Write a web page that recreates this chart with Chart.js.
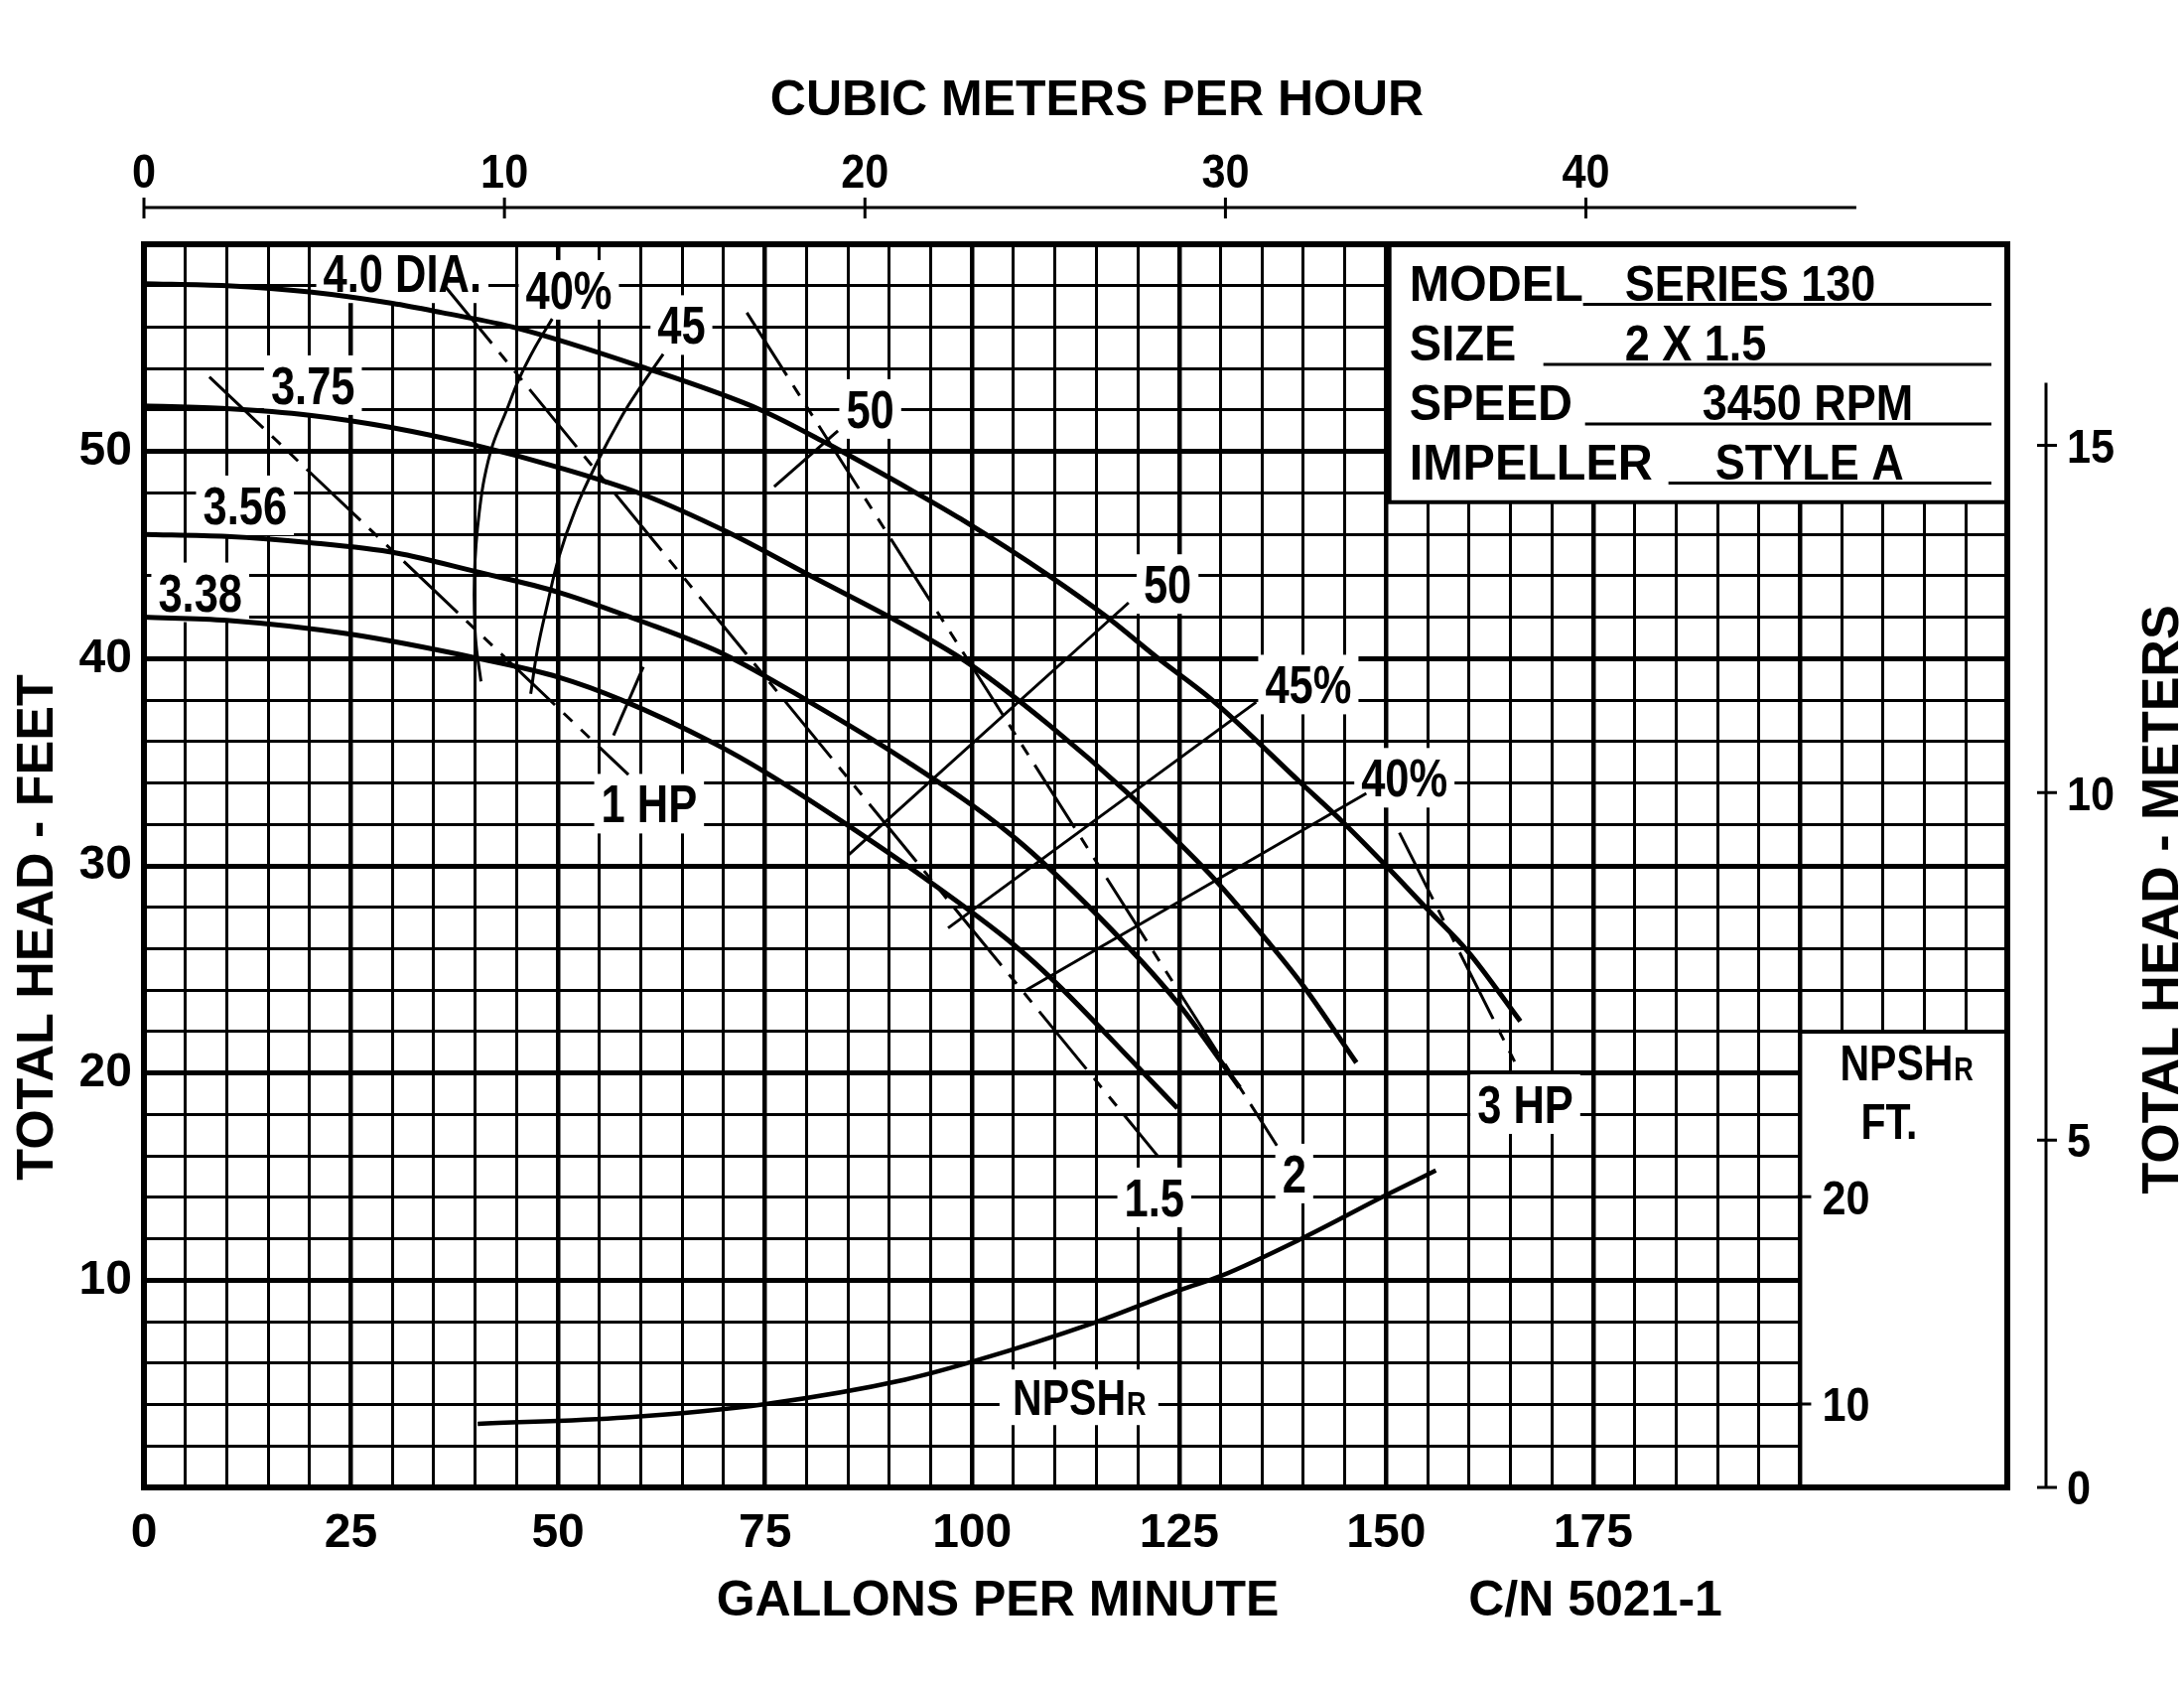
<!DOCTYPE html>
<html>
<head>
<meta charset="utf-8">
<script src="https://cdn.jsdelivr.net/npm/chart.js@4.4.0/dist/chart.umd.min.js"></script>
<style>
  html, body { margin: 0; padding: 0; background: #fff; }
  canvas { display: block; }
</style>
</head>
<body>
<canvas id="pumpChart" width="2200" height="1700"></canvas>
<script>
// axis tick labels
const gpmLabels = [0, 25, 50, 75, 100, 125, 150, 175];
const headLabels = [10, 20, 30, 40, 50];
const cubicLabels = [0, 10, 20, 30, 40];
const meterLabels = [0, 5, 10, 15];
const npshLabels = [10, 20];

// impeller curves, [gpm, head ft]
const dia400 = [[0,58.1],[10,58.0],[20,57.7],[30,57.15],[36,56.7],[45,55.96],[60,54.1],[74.5,52.0],[82.4,50.4],[92.8,48.1],[98.6,46.75],[109.3,44.0],[116.3,42.0],[122.5,40.0],[129,38.0],[139.7,34.0],[144.8,32.1],[150,30.0],[155,27.9],[159.8,25.9],[166.2,22.5]];
const dia375 = [[0,52.2],[10,52.07],[20,51.75],[30,51.15],[40,50.3],[50,49.24],[60,47.96],[70.5,46.1],[80,44.1],[92.8,41.4],[99.85,39.7],[109.3,36.8],[119.1,33.4],[125,31.1],[129.4,29.3],[135.6,26.4],[140,24.2],[146.4,20.5]];
const dia356 = [[0,46.0],[10,45.9],[20,45.6],[30.5,45.1],[40.1,44.2],[50.1,43.2],[60.1,41.8],[70.1,40.2],[80,38.0],[91.9,35.1],[104.7,31.5],[115.3,27.55],[124.8,23.4],[132.3,19.3]];
const dia338 = [[0,42.0],[10,41.85],[24.6,41.2],[40.5,40.0],[50.1,39.1],[57.7,38.0],[68.9,35.9],[75.1,34.5],[84.45,32.1],[94.3,29.4],[105,26.2],[110,24.4],[120,20.3],[124.8,18.3]];

// efficiency lines
const eff40Left = [[49.3,56.4],[47.2,55.0],[45.3,53.5],[43.7,51.9],[42.1,50.3],[41.1,48.7],[40.5,47.1],[40.1,45.5],[39.9,43.9],[39.9,42.3],[40.1,40.7],[40.7,38.9]];
const eff45Left = [[62.7,54.7],[60.1,53.2],[57.7,51.7],[54.5,49.3],[52.1,47.2],[50.1,44.9],[48.7,42.6],[47.5,40.4],[46.7,38.3]];
const effStub = [[60.3,39.6],[56.7,36.3]];
const eff50Left = [[76.1,48.3],[83.8,51.0]];
const eff50Right = [[118.9,42.7],[85.0,30.5]];
const eff45Right = [[134.3,37.9],[97.1,27.0]];
const eff40Right = [[147.6,33.5],[106.5,24.0]];

// horsepower lines
const hp1 = [[7.9,53.6],[58.5,34.4]];
const hp15 = [[36.3,58.0],[122.4,16.0]];
const hp2 = [[72.8,56.7],[136.8,16.5]];
const hp3 = [[151.6,31.6],[165.7,20.4]];

// NPSHr, [gpm, npsh ft]
const npshr = [[40.3,9.04],[58.2,9.35],[75.1,10.0],[91.9,11.17],[100.3,12.07],[114.4,13.87],[125.4,15.54],[130,16.17],[140,18.02],[149.7,20.02],[156,21.27]];

// curve labels: text, gpm, ft
const curveLabels = [
    ['4.0 DIA.', 31.2, 58.6], ['3.75', 20.4, 53.2], ['3.56', 12.2, 47.4], ['3.38', 6.8, 43.2],
    ['40%', 51.3, 57.8], ['45', 64.9, 56.1], ['50', 87.7, 52.05],
    ['50', 123.6, 43.6], ['45%', 140.6, 38.75], ['40%', 152.2, 34.25],
    ['1 HP', 61.0, 33.0], ['1.5', 122.0, 14.0], ['2', 138.9, 15.15], ['3 HP', 166.8, 18.5]
];

const modelRows = [
    ['MODEL', 'SERIES 130'],
    ['SIZE', '2 X 1.5'],
    ['SPEED', '3450 RPM'],
    ['IMPELLER', 'STYLE A']
];

const GPM_PER_M3H = 4.353;
const FT_PER_M = 3.353;
const NPSH_OFFSET = 5.97;

const FONT = '"Liberation Sans", Arial, sans-serif';
const SQUEEZE = 0.82;
const dash = [75, 12, 12, 12, 12, 12];

function line(points, width, opts) {
    return Object.assign({
        data: points.map(p => ({ x: p[0], y: p[1] })),
        borderColor: '#000',
        borderWidth: width,
        pointRadius: 0,
        fill: false,
        tension: 0,
        borderCapStyle: 'butt',
        yAxisID: 'y'
    }, opts || {});
}

function textWidth(ctx, text, size, k) {
    ctx.font = 'bold ' + size + 'px ' + FONT;
    return ctx.measureText(text).width * (k || 1);
}

// draw text so that its capitals are centred on cy
function capText(ctx, text, cx, cy, size, align, k) {
    ctx.save();
    ctx.translate(cx, cy + size * 0.36);
    ctx.scale(k || 1, 1);
    ctx.font = 'bold ' + size + 'px ' + FONT;
    ctx.textAlign = align || 'center';
    ctx.textBaseline = 'alphabetic';
    ctx.fillText(text, 0, 0);
    ctx.restore();
}

function npshText(ctx, left, cy, size) {
    const w = textWidth(ctx, 'NPSH', size, SQUEEZE);
    capText(ctx, 'NPSH', left, cy, size, 'left', SQUEEZE);
    const small = Math.round(size * 0.66);
    capText(ctx, 'R', left + w + 1, cy + (size - small) * 0.36, small, 'left', SQUEEZE);
}

const overlay = {
    id: 'overlay',
    beforeDatasetsDraw(chart) {
        const { ctx, chartArea: a } = chart;
        const x = chart.scales.x, y = chart.scales.y;
        ctx.save();
        ctx.fillStyle = '#fff';

        // model box and NPSH box knock out the grid
        const bx = x.getPixelForValue(150.4), by = y.getPixelForValue(47.55);
        ctx.fillRect(bx, a.top, a.right - bx, by - a.top);
        const nx = x.getPixelForValue(200), ny = y.getPixelForValue(22);
        ctx.fillRect(nx, ny, a.right - nx, a.bottom - ny);

        // label backgrounds
        curveLabels.forEach(l => {
            const w = textWidth(ctx, l[0], 53, SQUEEZE) + 14;
            const cx = x.getPixelForValue(l[1]), cy = y.getPixelForValue(l[2]);
            ctx.fillRect(cx - w / 2, cy - 30, w, 60);
        });
        const npx = x.getPixelForValue(112.9), npy = y.getPixelForValue(4.35);
        ctx.fillRect(npx - 80, npy - 28, 160, 56);

        ctx.strokeStyle = '#000';
        ctx.lineWidth = 4;
        ctx.beginPath();
        ctx.moveTo(bx, a.top); ctx.lineTo(bx, by); ctx.lineTo(a.right, by);
        ctx.moveTo(nx, a.bottom); ctx.lineTo(nx, ny); ctx.lineTo(a.right, ny);
        ctx.stroke();

        ctx.lineWidth = 6;
        ctx.strokeRect(a.left, a.top, a.right - a.left, a.bottom - a.top);
        ctx.restore();
    },
    afterDraw(chart) {
        const { ctx, chartArea: a } = chart;
        const x = chart.scales.x, y = chart.scales.y;
        const xm = chart.scales.xm, ym = chart.scales.ym, yn = chart.scales.yn;
        ctx.save();
        ctx.fillStyle = '#000';
        ctx.strokeStyle = '#000';

        // curve labels
        curveLabels.forEach(l => {
            capText(ctx, l[0], x.getPixelForValue(l[1]), y.getPixelForValue(l[2]), 53, 'center', SQUEEZE);
        });
        const npx = x.getPixelForValue(112.9), npy = y.getPixelForValue(4.35);
        const npw = textWidth(ctx, 'NPSH', 50, SQUEEZE) + textWidth(ctx, 'R', 33, SQUEEZE);
        npshText(ctx, npx - npw / 2, npy, 50);

        // top axis, cubic meters per hour
        const topY = 209;
        ctx.lineWidth = 3;
        ctx.beginPath();
        ctx.moveTo(xm.getPixelForValue(0), topY);
        ctx.lineTo(xm.getPixelForValue(47.5), topY);
        cubicLabels.forEach(v => {
            const px = xm.getPixelForValue(v);
            ctx.moveTo(px, topY - 10); ctx.lineTo(px, topY + 11);
        });
        ctx.stroke();
        cubicLabels.forEach(v => capText(ctx, String(v), xm.getPixelForValue(v), 172, 48, 'center', 0.9));
        capText(ctx, 'CUBIC METERS PER HOUR', 1105, 98, 50);

        // right axis, meters
        const rx = a.right + 39;
        ctx.beginPath();
        ctx.moveTo(rx, ym.getPixelForValue(0));
        ctx.lineTo(rx, ym.getPixelForValue(15.9));
        meterLabels.forEach(v => {
            const py = ym.getPixelForValue(v);
            ctx.moveTo(rx - 9, py); ctx.lineTo(rx + 11, py);
        });
        ctx.stroke();
        meterLabels.forEach(v => capText(ctx, String(v), rx + 21, ym.getPixelForValue(v), 48, 'left', 0.9));

        // NPSHr axis inside its box
        const nx = x.getPixelForValue(200), ny = y.getPixelForValue(22);
        ctx.beginPath();
        npshLabels.forEach(v => {
            const py = yn.getPixelForValue(v);
            ctx.moveTo(nx - 4, py); ctx.lineTo(nx + 11, py);
        });
        ctx.stroke();
        npshLabels.forEach(v => capText(ctx, String(v), nx + 22, yn.getPixelForValue(v), 48, 'left', 0.9));
        npshText(ctx, nx + 40, ny + 31, 50);
        capText(ctx, 'FT.', nx + 61, ny + 90, 50, 'left', SQUEEZE);

        // model box
        const bx = x.getPixelForValue(150.4);
        const rowBase = [56.5, 117, 177, 236.5];
        const valueX = [237, 237, 315, 328];
        const lineX = [195, 155, 197, 281];
        ctx.lineWidth = 3;
        modelRows.forEach((r, i) => {
            const base = a.top + rowBase[i];
            capText(ctx, r[0], bx + 20, base - 18, 50, 'left', 0.97);
            capText(ctx, r[1], bx + valueX[i], base - 18, 50, 'left', 0.9);
            ctx.beginPath();
            ctx.moveTo(bx + lineX[i], base + 4);
            ctx.lineTo(a.right - 16, base + 4);
            ctx.stroke();
        });

        // axis titles
        capText(ctx, 'GALLONS PER MINUTE', 1005, 1609, 50);
        capText(ctx, 'C/N 5021-1', 1607, 1609, 50);

        ctx.save();
        ctx.translate(34, 934);
        ctx.rotate(-Math.PI / 2);
        capText(ctx, 'TOTAL HEAD - FEET', 0, 0, 52);
        ctx.restore();

        ctx.save();
        ctx.translate(2175, 906);
        ctx.rotate(-Math.PI / 2);
        capText(ctx, 'TOTAL HEAD - METERS', 0, 0, 52);
        ctx.restore();

        ctx.restore();
    }
};

const tickFont = { family: FONT, weight: 'bold', size: 48 };

new Chart(document.getElementById('pumpChart'), {
    type: 'line',
    data: {
        datasets: [
            line(dia400, 5, { cubicInterpolationMode: 'monotone' }),
            line(dia375, 5, { cubicInterpolationMode: 'monotone' }),
            line(dia356, 5, { cubicInterpolationMode: 'monotone' }),
            line(dia338, 5, { cubicInterpolationMode: 'monotone' }),
            line(eff40Left, 3, { tension: 0.4 }),
            line(eff45Left, 3, { tension: 0.4 }),
            line(effStub, 3),
            line(eff50Left, 3),
            line(eff50Right, 3),
            line(eff45Right, 3),
            line(eff40Right, 3),
            line(hp1, 3, { borderDash: dash }),
            line(hp15, 3, { borderDash: dash }),
            line(hp2, 3, { borderDash: dash }),
            line(hp3, 3, { borderDash: dash }),
            line(npshr, 4.5, { cubicInterpolationMode: 'monotone', yAxisID: 'yn' })
        ]
    },
    options: {
        responsive: false,
        animation: false,
        devicePixelRatio: 1,
        events: [],
        layout: { padding: { top: 246, right: 178, left: 0, bottom: 0 } },
        plugins: { legend: { display: false }, tooltip: { enabled: false } },
        scales: {
            x: {
                type: 'linear', position: 'bottom', min: 0, max: 225,
                afterFit: s => { s.height = 202; },
                ticks: {
                    stepSize: 5, maxTicksLimit: 100, autoSkip: false, maxRotation: 0,
                    padding: 18, color: '#000', font: tickFont,
                    callback: v => gpmLabels.includes(v) ? String(v) : ''
                },
                grid: { color: '#000', drawTicks: false, lineWidth: c => (c.tick && c.tick.value % 25 === 0) ? 4.5 : 3 },
                border: { display: false }
            },
            y: {
                type: 'linear', position: 'left', min: 0, max: 60,
                afterFit: s => { s.width = 145; },
                ticks: {
                    stepSize: 2, maxTicksLimit: 100, autoSkip: false,
                    padding: 12, color: '#000', font: tickFont,
                    callback: v => headLabels.includes(v) ? String(v) : ''
                },
                grid: { color: '#000', drawTicks: false, lineWidth: c => (c.tick && c.tick.value % 10 === 0) ? 5 : 3 },
                border: { display: false }
            },
            xm: { type: 'linear', position: 'top', display: false, min: 0, max: 225 / GPM_PER_M3H },
            ym: { type: 'linear', position: 'right', display: false, min: 0, max: 60 / FT_PER_M },
            yn: { type: 'linear', position: 'right', display: false, min: NPSH_OFFSET, max: 60 + NPSH_OFFSET }
        }
    },
    plugins: [overlay]
});
</script>
</body>
</html>
